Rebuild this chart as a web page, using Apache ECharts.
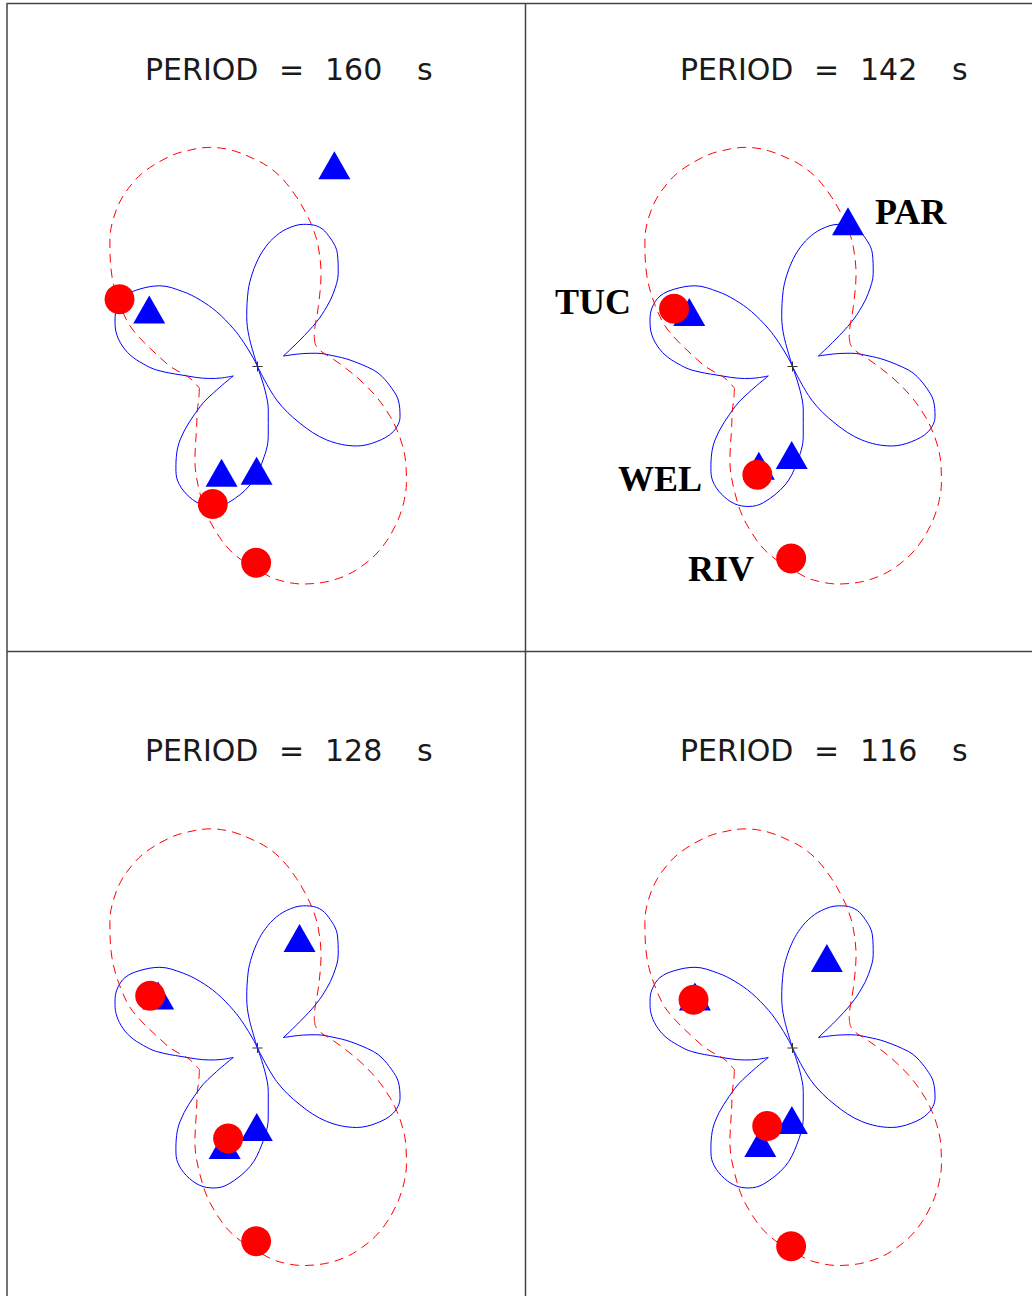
<!DOCTYPE html>
<html>
<head>
<meta charset="utf-8">
<script src="https://cdn.jsdelivr.net/npm/echarts@6.0.0/dist/echarts.min.js"></script>
<style>
html,body{margin:0;padding:0;background:#fff;}
#chart{width:1032px;height:1296px;}
</style>
</head>
<body>
<div id="chart"></div>
<script>
// ---- data (amplitudes in plot units, azimuths in degrees, counter-clockwise from east) ----
const periods = [160, 142, 128, 116];

// predicted pattern, solid blue (four lobes; each lobe ends at a cusp or a node)
const blueLobe1Azimuth = [22.1, 31.9, 37.1, 40.8, 44.0, 49.1, 54.8, 62.5, 67.2, 72.1, 78.1, 83.0, 87.1, 90.4, 93.6, 97.0, 102.2, 105.8, 108];
const blueLobe1Amp     = [0.279, 0.501, 0.742, 0.915, 1.054, 1.233, 1.385, 1.501, 1.525, 1.494, 1.405, 1.292, 1.166, 1.045, 0.915, 0.765, 0.510, 0.310, 0.0];
const blueLobe2Azimuth = [115, 116.8, 119.8, 122.4, 126.7, 130.8, 134.8, 140.4, 146.6, 152.0, 157.4, 161.9, 166.3, 170.6, 174.8, 178.7, 182.0, 186.5, 194.0, 197.5, 201.4];
const blueLobe2Amp     = [0.0, 0.100, 0.275, 0.445, 0.683, 0.879, 1.054, 1.266, 1.408, 1.501, 1.522, 1.499, 1.456, 1.383, 1.280, 1.142, 1.009, 0.760, 0.495, 0.383, 0.260];
const blueLobe3Azimuth = [201.4, 209.9, 215.0, 223.5, 231.3, 235.1, 240.8, 247.2, 252.7, 257.9, 266.4, 272.5, 278.7, 283.9, 287.5, 291];
const blueLobe3Amp     = [0.260, 0.471, 0.702, 1.068, 1.305, 1.395, 1.460, 1.490, 1.466, 1.393, 1.187, 0.969, 0.710, 0.448, 0.250, 0.0];
const blueLobe4Azimuth = [295, 299.8, 306.8, 313.3, 321.3, 327.8, 334.4, 340.6, 346.6, 350.8, 355.4, 358.3, 4.0, 8.1, 12.6, 15.8, 22.1];
const blueLobe4Amp     = [0.0, 0.386, 0.709, 1.009, 1.271, 1.409, 1.506, 1.511, 1.447, 1.360, 1.250, 1.159, 0.927, 0.763, 0.607, 0.475, 0.279];

// predicted pattern, dashed red (two lobes between cusps)
const redLobe1Azimuth = [21.5, 27.7, 34.7, 44.5, 55.7, 63.1, 67.3, 71.8, 77.0, 82.3, 86.5, 90.2, 96.4, 102.2, 109.1, 113.4, 119.6, 123.9, 129.3, 134.8, 139.4, 148.1, 156.0, 163.7, 178.4, 182.5, 189.9, 200.5];
const redLobe1Amp     = [0.620, 0.641, 0.699, 0.853, 1.128, 1.343, 1.465, 1.590, 1.738, 1.890, 1.992, 2.063, 2.172, 2.242, 2.274, 2.276, 2.257, 2.223, 2.156, 2.054, 1.944, 1.715, 1.503, 1.297, 0.905, 0.815, 0.685, 0.620];
const redLobe2Azimuth = [200.5, 209.7, 215.9, 224.7, 236.2, 245.6, 253.5, 262.6, 273.4, 277.7, 281.9, 286.1, 289.5, 293.2, 297.1, 301.9, 306.7, 311.6, 315.1, 317.9, 321.8, 327.5, 332.0, 335.5, 339.3, 345.6, 352.5, 0.1, 7.5, 12.7, 18.5, 21.5];
const redLobe2Amp     = [0.620, 0.677, 0.743, 0.856, 1.125, 1.392, 1.635, 1.884, 2.106, 2.175, 2.223, 2.252, 2.266, 2.269, 2.255, 2.223, 2.168, 2.095, 2.034, 1.980, 1.895, 1.756, 1.634, 1.533, 1.420, 1.230, 1.034, 0.858, 0.731, 0.661, 0.624, 0.620];

// observations: red circles (TUC, WEL, RIV)
const circleStations = ['TUC', 'WEL', 'RIV'];
const circleAzimuth = [154.0, 252.0, 269.6];
const circleAmp160 = [1.535, 1.446, 1.962];
const circleAmp142 = [1.318, 1.138, 1.920];
const circleAmp128 = [1.194, 0.951, 1.933];
const circleAmp116 = [1.101, 0.819, 1.982];

// observations: blue triangles (TUC, PAR, WEL, RIV)
const triangleStations = ['TUC', 'PAR', 'WEL', 'RIV'];
const triangleAzimuth = [152.2, 69.1, 251.3, 269.5];
const triangleAmp160 = [1.224, 2.155, 1.121, 1.043];
const triangleAmp142 = [1.167, 1.555, 1.049, 0.885];
const triangleAmp128 = [1.123, 1.178, 1.025, 0.789];
const triangleAmp116 = [1.103, 0.963, 1.004, 0.720];

// ---- layout ----
const blueLobes = [[blueLobe1Azimuth, blueLobe1Amp], [blueLobe2Azimuth, blueLobe2Amp], [blueLobe3Azimuth, blueLobe3Amp], [blueLobe4Azimuth, blueLobe4Amp]];
const redLobes = [[redLobe1Azimuth, redLobe1Amp], [redLobe2Azimuth, redLobe2Amp]];
const circleAmps = [circleAmp160, circleAmp142, circleAmp128, circleAmp116];
const triangleAmps = [triangleAmp160, triangleAmp142, triangleAmp128, triangleAmp116];
const panelDX = [0, 535, 0, 535];
const panelDY = [0, 0, 681.5, 681.5];
const baseCenter = [257.5, 366.5];
const R_MAX = 2.6, R_PX = 260;

function pairs(az, amp) { return az.map((a, i) => [amp[i], a]); }

const polar = [], angleAxis = [], radiusAxis = [], series = [];
const hidden = { show: false };
periods.forEach((p, i) => {
  polar.push({ center: [baseCenter[0] + panelDX[i], baseCenter[1] + panelDY[i]], radius: [0, R_PX] });
  angleAxis.push({ polarIndex: i, type: 'value', min: 0, max: 360, startAngle: 0, clockwise: false,
    axisLine: hidden, axisTick: hidden, axisLabel: hidden, splitLine: hidden });
  radiusAxis.push({ polarIndex: i, type: 'value', min: 0, max: R_MAX,
    axisLine: hidden, axisTick: hidden, axisLabel: hidden, splitLine: hidden });
  blueLobes.forEach(([az, amp]) => {
    series.push({ type: 'line', coordinateSystem: 'polar', polarIndex: i, data: pairs(az, amp),
      smooth: 0.35, showSymbol: false, symbol: 'none', silent: true, z: 2,
      lineStyle: { color: '#0000ff', width: 1 } });
  });
  redLobes.forEach(([az, amp]) => {
    series.push({ type: 'line', coordinateSystem: 'polar', polarIndex: i, data: pairs(az, amp),
      smooth: 0.35, showSymbol: false, symbol: 'none', silent: true, z: 3,
      lineStyle: { color: '#ff0000', width: 1, type: [9, 6] } });
  });
  series.push({ type: 'scatter', coordinateSystem: 'polar', polarIndex: i, data: pairs(triangleAzimuth, triangleAmps[i]),
    symbol: 'triangle', symbolSize: [32, 28], silent: true, z: 4,
    itemStyle: { color: '#0000ff', opacity: 1 } });
  series.push({ type: 'scatter', coordinateSystem: 'polar', polarIndex: i, data: pairs(circleAzimuth, circleAmps[i]),
    symbol: 'circle', symbolSize: 30, silent: true, z: 5,
    itemStyle: { color: '#ff0000', opacity: 1 } });
  series.push({ type: 'scatter', coordinateSystem: 'polar', polarIndex: i, data: [[0, 0]],
    symbol: 'path://M0,4.5L10,4.5L10,5.5L0,5.5Z M4.5,0L5.5,0L5.5,10L4.5,10Z', symbolSize: 10, silent: true, z: 6,
    itemStyle: { color: '#333', opacity: 1 } });
});

// ---- texts and frame ----
const graphic = [];
const titleFont = { fontSize: 30, fontFamily: '"DejaVu Sans", sans-serif', fontWeight: 'normal', fill: '#1a1a1a' };
periods.forEach((p, i) => {
  const parts = [['PERIOD', 145], ['=', 279], [String(p), 325], ['s', 417]];
  parts.forEach(([t, x]) => {
    graphic.push({ type: 'text', x: x + panelDX[i], y: 69 + panelDY[i], silent: true,
      style: Object.assign({ text: t, align: 'left', verticalAlign: 'middle', textAlign: 'left', textVerticalAlign: 'middle' }, titleFont) });
  });
});
const labelFont = { fontSize: 36, fontFamily: '"Liberation Serif", "Times New Roman", serif', fontWeight: 'bold', fill: '#000' };
const stationLabels = [['PAR', 875, 212], ['TUC', 555, 302], ['WEL', 618, 479], ['RIV', 688, 569]];
stationLabels.forEach(([t, x, y]) => {
  graphic.push({ type: 'text', x: x, y: y, silent: true,
    style: Object.assign({ text: t, align: 'left', verticalAlign: 'middle', textAlign: 'left', textVerticalAlign: 'middle' }, labelFont) });
});
const frame = { stroke: '#444', lineWidth: 1.5 };
[[7, 3.5, 1032, 3.5], [7, 3, 7, 1296], [525.5, 3, 525.5, 1296], [7, 651.5, 1032, 651.5]].forEach(s => {
  graphic.push({ type: 'line', silent: true, shape: { x1: s[0], y1: s[1], x2: s[2], y2: s[3] }, style: frame });
});

const chart = echarts.init(document.getElementById('chart'), null, { renderer: 'svg', width: 1032, height: 1296 });
chart.setOption({
  backgroundColor: '#fff',
  animation: false,
  polar, angleAxis, radiusAxis, series, graphic
});
</script>
</body>
</html>
